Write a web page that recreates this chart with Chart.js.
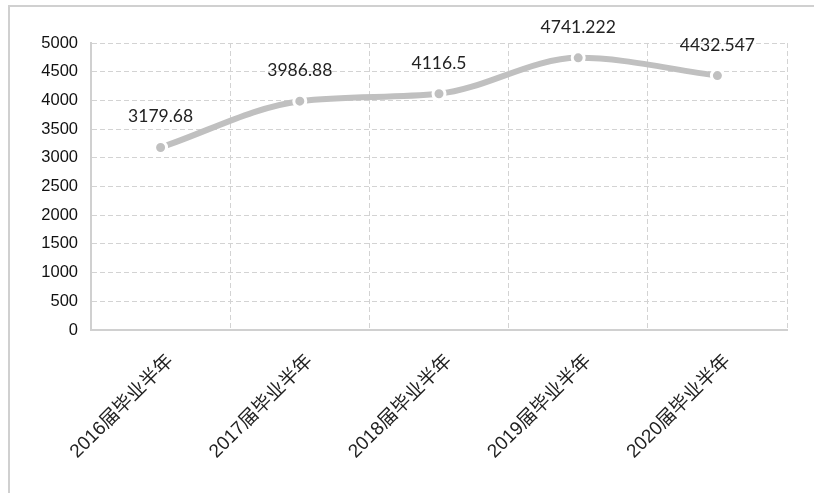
<!DOCTYPE html>
<html>
<head>
<meta charset="utf-8">
<script src="https://cdn.jsdelivr.net/npm/chart.js@4"></script>
<style>
    body { margin: 0; background: #fff; }
    #wrap { position: relative; width: 814px; height: 493px; overflow: hidden; }
    #frame { position: absolute; left: 8px; top: 5px; right: -30px; bottom: -30px; border: 2px solid #d0d0d0; }
    canvas { position: absolute; left: 0; top: 0; }
</style>
</head>
<body>
<div id="wrap">
    <div id="frame"></div>
    <canvas id="combinedChart" width="814" height="493"></canvas>
</div>
<script>
// chart data
const categories = ['2016届毕业半年', '2017届毕业半年', '2018届毕业半年', '2019届毕业半年', '2020届毕业半年'];
const salary = [3179.68, 3986.88, 4116.5, 4741.222, 4432.547];
const valueLabels = ['3179.68', '3986.88', '4116.5', '4741.222', '4432.547'];

// draws the value above each point
const pointLabels = {
    id: 'pointLabels',
    afterDatasetsDraw(chart) {
        const ctx = chart.ctx;
        const meta = chart.getDatasetMeta(0);
        ctx.save();
        ctx.font = '17.5px Lato, "Noto Sans", sans-serif';
        ctx.fillStyle = '#222';
        ctx.textAlign = 'center';
        ctx.textBaseline = 'alphabetic';
        meta.data.forEach((pt, i) => {
            ctx.fillText(valueLabels[i], pt.x, pt.y - 25);
        });
        ctx.restore();
    }
};

const ctx = document.getElementById('combinedChart').getContext('2d');

new Chart(ctx, {
    type: 'line',
    data: {
        labels: categories,
        datasets: [{
            data: salary,
            borderColor: '#c0c0c0',
            borderWidth: 6,
            cubicInterpolationMode: 'monotone',
            pointRadius: 6,
            pointBackgroundColor: '#c0c0c0',
            pointBorderColor: '#ffffff',
            pointBorderWidth: 3,
            clip: false
        }]
    },
    options: {
        responsive: false,
        animation: false,
        layout: { padding: { top: 43, right: 27, left: 0, bottom: 0 } },
        plugins: {
            legend: { display: false },
            tooltip: { enabled: false }
        },
        scales: {
            x: {
                offset: true,
                afterFit(scale) { scale.height = 163; },
                grid: {
                    offset: true,
                    color: '#d3d3d3',
                    lineWidth: 1,
                    drawTicks: false
                },
                border: { display: true, color: '#d0d0d0', width: 2, dash: [5, 3] },
                ticks: {
                    maxRotation: 45,
                    minRotation: 45,
                    padding: 20,
                    labelOffset: 10,
                    color: '#222',
                    font: { family: '"Liberation Sans", "Noto Sans CJK SC", sans-serif', size: 19 }
                }
            },
            y: {
                min: 0,
                max: 5000,
                afterFit(scale) { scale.width = 91; },
                grid: {
                    color: '#d3d3d3',
                    lineWidth: 1,
                    drawTicks: false
                },
                border: { display: true, color: '#d0d0d0', width: 2, dash: [5, 3] },
                ticks: {
                    stepSize: 500,
                    padding: 13,
                    color: '#111',
                    font: { family: '"Liberation Sans", sans-serif', size: 16.5 },
                    callback: value => String(value)
                }
            }
        }
    },
    plugins: [pointLabels]
});
</script>
</body>
</html>
